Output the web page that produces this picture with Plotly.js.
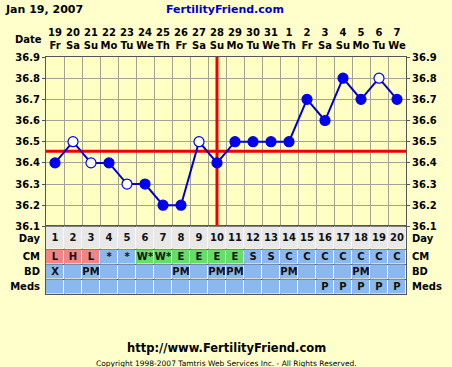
<!DOCTYPE html>
<html>
<head>
<meta charset="utf-8">
<script src="https://cdn.plot.ly/plotly-3.0.1.min.js"></script>
<style>html,body{margin:0;padding:0;background:#FFFFCC;}#chart{width:452px;height:367px;}</style>
</head>
<body>
<div id="chart"></div>
<script>
// ---- data ----
const dates = ['19','20','21','22','23','24','25','26','27','28','29','30','31','1','2','3','4','5','6','7'];
const weekdays = ['Fr','Sa','Su','Mo','Tu','We','Th','Fr','Sa','Su','Mo','Tu','We','Th','Fr','Sa','Su','Mo','Tu','We'];
const temps = [36.4,36.5,36.4,36.4,36.3,36.3,36.2,36.2,36.5,36.4,36.5,36.5,36.5,36.5,36.7,36.6,36.8,36.7,36.8,36.7];
const openPoints = [false,true,true,false,true,false,false,false,true,false,false,false,false,false,false,false,false,false,true,false];
const cm = ['L','H','L','*','*','W*','W*','E','E','E','E','S','S','C','C','C','C','C','C','C'];
const bd = ['X','','PM','','','','','PM','','PM','PM','','','PM','','','','PM','',''];
const meds = ['','','','','','','','','','','','','','','','P','P','P','P','P'];
const rowLabels = ['Meds','BD','CM','Day'];
const tempTicks = [36.1,36.2,36.3,36.4,36.5,36.6,36.7,36.8,36.9];
const coverLine = 36.455;
const ovulationDay = 10;
const chartDate = 'Jan 19, 2007';
const siteName = 'FertilityFriend.com';
const siteUrl = 'http://www.FertilityFriend.com';
const copyright = 'Copyright 1998-2007 Tamtris Web Services Inc. - All Rights Reserved.';

// ---- derived ----
const days = dates.map((d,i)=>i+1);
const cmClass = {'L':1,'H':1,'W*':2,'E':2,'*':3,'S':3,'C':3};
const FONT = 'DejaVu Sans';
const BLUE = '#0000EE';
const GRID = '#A3A392';
const rowEdges = [0,15,29.6,45,67.6];
const rowCenters = [7.5,22.3,37.3,55.5];

const zTable = [
  days.map(()=>3),
  days.map(()=>3),
  cm.map(c=>cmClass[c]),
  days.map(()=>0)
];
const tTable = [meds, bd, cm, days.map(String)];

const traces = [
  {x:[0.5,20.5], y:[coverLine,coverLine], xaxis:'x', yaxis:'y', mode:'lines',
   line:{color:'#EE0000', width:3}, hoverinfo:'skip', showlegend:false},
  {x:[ovulationDay,ovulationDay], y:[36.1,36.9], xaxis:'x', yaxis:'y', mode:'lines',
   line:{color:'#EE0000', width:3}, hoverinfo:'skip', showlegend:false},
  {x:days, y:temps, xaxis:'x', yaxis:'y', mode:'lines+markers',
   line:{color:'#0000CC', width:2},
   marker:{size:10, color:openPoints.map(o=>o?'#FFFFFF':BLUE), line:{color:BLUE, width:1.2}},
   showlegend:false},
  {x:[1], y:[36.5], xaxis:'x', yaxis:'y3', mode:'markers', marker:{opacity:0}, hoverinfo:'skip', showlegend:false},
  {type:'heatmap', x:days, y:rowEdges, z:zTable, text:tTable, xaxis:'x', yaxis:'y2',
   texttemplate:'<b>%{text}</b>', textfont:{family:FONT, size:10, color:'#111'},
   zmin:0, zmax:3, showscale:false, xgap:1, ygap:1, hoverinfo:'skip',
   colorscale:[[0,'#E8E8E8'],[0.17,'#E8E8E8'],[0.17,'#F08585'],[0.5,'#F08585'],[0.5,'#66DD66'],[0.83,'#66DD66'],[0.83,'#8CB8F0'],[1,'#8CB8F0']]},
  {x:[1], y:[10], xaxis:'x', yaxis:'y4', mode:'markers', marker:{opacity:0}, hoverinfo:'skip', showlegend:false}
];

const tickFont = {family:FONT, size:10, color:'#000', weight:700};
const W=452,H=367,L=46,R=46,T=57,B=73;
const pw=W-L-R, ph=H-T-B;
const px=(x)=>(x-L)/pw, py=(y)=>(H-B-y)/ph;
const tableFrac = 67.6/ph;

const layout = {
  width:W, height:H,
  margin:{l:L,r:R,t:T,b:B,pad:0},
  paper_bgcolor:'#FFFFCC', plot_bgcolor:'#FFFFC4',
  showlegend:false,
  xaxis:{range:[0.5,20.5], side:'top', anchor:'y', tickmode:'array', tickvals:days, tickangle:0,
    ticktext:days.map((d,i)=>dates[i]+'<br>'+weekdays[i]), tickfont:tickFont,
    showgrid:false, zeroline:false, ticks:'', ticklabelstandoff:3,
    minor:{tickmode:'array', tickvals:days.slice(0,-1).map(d=>d+0.5), showgrid:true, gridcolor:GRID, gridwidth:1},
    showline:true, linecolor:'#555', mirror:'all', fixedrange:true},
  yaxis:{domain:[tableFrac,1], range:[36.1,36.9], tickvals:tempTicks, ticktext:tempTicks.map(v=>v.toFixed(1)),
    tickfont:tickFont, showgrid:true, gridcolor:GRID, zeroline:false, ticks:'outside', ticklen:3, tickcolor:'#555',
    showline:true, linecolor:'#555', fixedrange:true},
  yaxis3:{overlaying:'y', side:'right', range:[36.1,36.9], tickvals:tempTicks, ticktext:tempTicks.map(v=>v.toFixed(1)),
    tickfont:tickFont, showgrid:false, zeroline:false, ticks:'outside', ticklen:3, tickcolor:'#555',
    showline:true, linecolor:'#555', fixedrange:true},
  yaxis2:{domain:[0,tableFrac], range:[0,67.6], tickmode:'array', tickvals:rowCenters, ticktext:rowLabels,
    tickfont:tickFont, showgrid:false, zeroline:false, ticks:'', ticklabelstandoff:3,
    minor:{tickmode:'array', tickvals:rowEdges.slice(1,-1), showgrid:true, gridcolor:'#555'},
    showline:true, linecolor:'#555', fixedrange:true},
  yaxis4:{overlaying:'y2', side:'right', range:[0,67.6], tickmode:'array', tickvals:rowCenters, ticktext:rowLabels,
    tickfont:tickFont, showgrid:false, zeroline:false, ticks:'', ticklabelstandoff:3, showline:true, linecolor:'#555', fixedrange:true},
  annotations:[
    {text:chartDate, xref:'paper', yref:'paper', x:px(3), y:py(10), xanchor:'left', yanchor:'middle', showarrow:false,
     font:{family:FONT, size:11, color:'#000', weight:700}},
    {text:siteName, xref:'paper', yref:'paper', x:px(225), y:py(10), xanchor:'center', yanchor:'middle', showarrow:false,
     font:{family:FONT, size:11, color:'#0000CC', weight:700}},
    {text:'Date', xref:'paper', yref:'paper', x:px(44), y:py(39), xanchor:'right', yanchor:'middle', showarrow:false,
     font:{family:FONT, size:10, color:'#000', weight:700}},
    {text:siteUrl, xref:'paper', yref:'paper', x:px(226), y:py(348), xanchor:'center', yanchor:'middle', showarrow:false,
     font:{family:FONT, size:11.5, color:'#000', weight:700}},
    {text:copyright, xref:'paper', yref:'paper', x:px(226), y:py(363), xanchor:'center', yanchor:'middle', showarrow:false,
     font:{family:FONT, size:7.5, color:'#000'}}
  ]
};

Plotly.newPlot('chart', traces, layout, {displayModeBar:false, staticPlot:true});
</script>
</body>
</html>
